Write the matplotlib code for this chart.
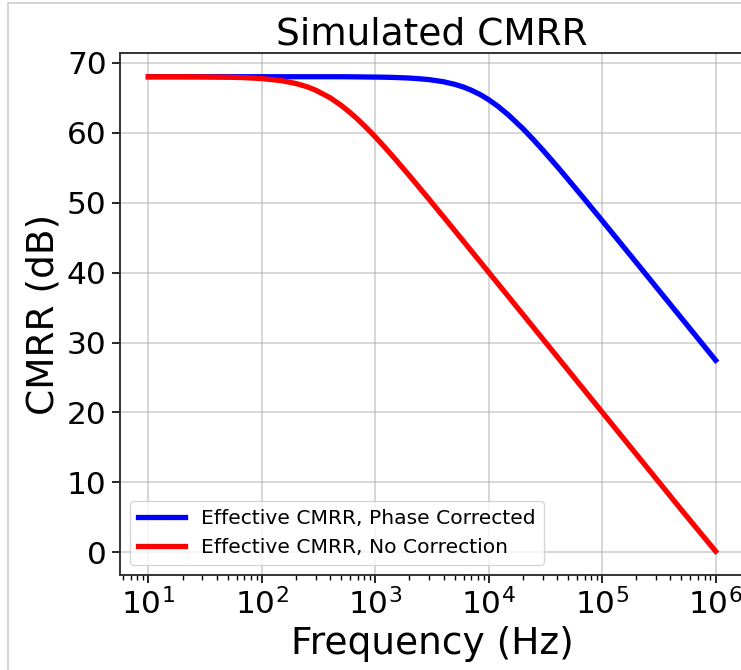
import matplotlib
matplotlib.use("Agg")
import matplotlib.pyplot as plt
from matplotlib.patches import Rectangle
from matplotlib.ticker import LogLocator, MultipleLocator

# values
freq_hz = [10, 15, 20, 30, 50, 70, 100, 150, 200, 250, 300, 400, 500, 600,
           700, 850, 1000, 1200, 1500, 2000, 2500, 3000, 4000, 5000, 6000,
           7000, 8500, 1e4, 1.2e4, 1.5e4, 2e4, 2.5e4, 3e4, 4e4, 5e4, 7e4,
           1e5, 2e5, 5e5, 1e6]
cmrr_corrected = [68.0, 68.0, 68.0, 68.0, 68.0, 68.0, 68.0, 68.0, 68.0,
                  68.0, 68.0, 68.0, 68.0, 67.99, 67.98, 67.96, 67.95, 67.93,
                  67.89, 67.81, 67.7, 67.58, 67.28, 66.92, 66.52, 66.08,
                  65.41, 64.71, 63.8, 62.5, 60.58, 58.93, 57.51, 55.19, 53.33,
                  50.48, 47.42, 41.43, 33.48, 27.46]
cmrr_uncorrected = [68.0, 68.0, 68.0, 67.98, 67.93, 67.87, 67.74, 67.43,
                    67.03, 66.57, 66.06, 64.99, 63.91, 62.88, 61.91, 60.58,
                    59.4, 58.0, 56.22, 53.85, 51.97, 50.42, 47.96, 46.03,
                    44.46, 43.12, 41.45, 40.03, 38.45, 36.52, 34.02, 32.08,
                    30.5, 28.0, 26.06, 23.14, 20.04, 14.02, 6.06, 0.15]

fig = plt.figure(figsize=(7.41, 6.70), dpi=100)
ax = fig.add_axes([120 / 741, 95 / 670, 624 / 741, 522 / 670])

ax.semilogx(freq_hz, cmrr_corrected, color="blue", lw=3.8,
            label="Effective CMRR, Phase Corrected")
ax.semilogx(freq_hz, cmrr_uncorrected, color="red", lw=3.8,
            label="Effective CMRR, No Correction")

ax.xaxis.set_major_locator(LogLocator(base=10, numticks=20))
ax.xaxis.set_minor_locator(LogLocator(base=10, subs=range(2, 10), numticks=20))
ax.yaxis.set_major_locator(MultipleLocator(10))

ax.grid(True, which="major", color="#b0b0b0", alpha=0.6, lw=1.2)
ax.set_title("Simulated CMRR", fontsize=27)
ax.set_xlabel("Frequency (Hz)", fontsize=27)
ax.set_ylabel("CMRR (dB)", fontsize=27)
ax.tick_params(axis="both", which="major", labelsize=22.5, length=6, width=1.2)
ax.tick_params(axis="both", which="minor", length=3.5, width=1.0)
for sp in ax.spines.values():
    sp.set_linewidth(1.4)
    sp.set_color("#333333")

ax.legend(loc="lower left", fontsize=14.6, handlelength=2.3)

# thin light frame around the screenshot
fig.patches.append(Rectangle((8 / 741, -0.1), 1.1, 0.1 + 667 / 670,
                             transform=fig.transFigure, fill=False,
                             edgecolor="#cccccc", lw=1.2))

plt.savefig("out.png", dpi=100)
